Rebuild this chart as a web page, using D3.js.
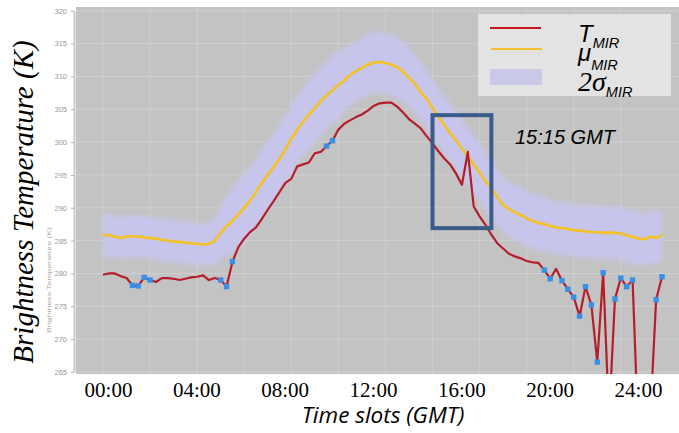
<!DOCTYPE html>
<html>
<head>
<meta charset="utf-8">
<title>Brightness temperature - MIR</title>
<script src="https://d3js.org/d3.v7.min.js"></script>
<style>
  body { margin: 0; background: #fff; }
  svg { display: block; }
</style>
</head>
<body>
<script>
// 15 minute slots, 00:00 .. 23:45
var tMir = [
  279.8, 280.0, 280.0, 279.6, 279.3, 278.2, 278.1, 279.4, 279.0, 278.7,
  279.3, 279.3, 279.2, 279.0, 279.2, 279.4, 279.5, 279.7, 279.0, 279.3,
  279.0, 278.0, 281.8, 284.0, 285.3, 286.3, 287.0, 288.3, 289.7, 291.0,
  292.4, 293.8, 294.4, 296.3, 296.6, 296.9, 298.3, 298.5, 299.4, 300.2,
  301.9, 302.8, 303.3, 303.8, 304.2, 304.8, 305.5, 305.9, 306.0, 306.0,
  305.4, 304.5, 303.5, 302.8, 302.1, 300.9, 299.8, 298.6, 297.5, 296.6,
  295.2, 293.5, 298.5, 290.2, 288.7, 287.4, 285.9, 284.6, 283.8, 283.0,
  282.6, 282.3, 281.9, 281.7, 281.6, 280.5, 279.2, 280.7, 278.9, 277.6,
  276.4, 273.5, 278.0, 275.2, 266.5, 280.1, 258.0, 276.1, 279.3, 278.0,
  279.0, 255.0, 252.0, 258.0, 276.0, 279.5
];
var muMir = [
  285.9, 285.8, 285.6, 285.4, 285.6, 285.7, 285.6, 285.5, 285.4, 285.3,
  285.1, 285.0, 284.9, 284.8, 284.7, 284.6, 284.5, 284.4, 284.5, 285.0,
  286.2, 287.2, 288.0, 289.0, 290.0, 291.1, 292.4, 293.8, 295.0, 296.2,
  297.5, 298.9, 300.5, 301.9, 303.1, 304.2, 305.2, 306.2, 307.1, 307.9,
  308.7, 309.4, 310.2, 310.8, 311.3, 311.8, 312.1, 312.2, 312.0, 311.8,
  311.4, 310.7, 309.8, 308.9, 307.6, 306.6, 305.2, 303.8, 302.6, 301.4,
  300.2, 299.0, 297.8, 296.6, 295.4, 294.0, 293.0, 291.6, 290.4, 289.8,
  289.3, 288.9, 288.4, 288.0, 287.7, 287.5, 287.2, 287.0, 286.9, 286.8,
  286.6, 286.5, 286.4, 286.3, 286.3, 286.2, 286.2, 286.2, 286.1, 285.8,
  285.6, 285.3, 285.2, 285.6, 285.4, 285.9
];
var twoSigma = [
  3.2, 3.2, 3.2, 3.2, 3.2, 3.2, 3.2, 3.2, 3.2, 3.2,
  3.2, 3.2, 3.2, 3.2, 3.2, 3.2, 3.2, 3.2, 3.2, 3.5,
  4.0, 4.5, 5.0, 5.2, 5.2, 5.2, 5.2, 5.2, 5.2, 5.2,
  5.2, 5.2, 5.2, 5.2, 5.2, 5.2, 5.2, 5.2, 5.2, 5.2,
  5.2, 4.6, 4.6, 4.6, 4.6, 4.6, 4.6, 4.6, 4.6, 4.6,
  4.6, 4.6, 4.6, 4.4, 4.4, 4.4, 4.4, 4.4, 4.4, 4.4,
  4.4, 4.4, 4.4, 4.4, 4.4, 4.4, 4.4, 4.2, 4.2, 4.2,
  4.2, 4.2, 4.2, 4.2, 4.2, 4.2, 4.0, 4.0, 4.0, 4.0,
  4.0, 4.0, 4.0, 4.0, 4.0, 4.0, 4.0, 4.0, 4.0, 4.0,
  4.0, 4.0, 4.0, 4.0, 4.0, 4.0
];
// slots flagged as anomalous (blue markers)
var flagged = [5, 6, 7, 8, 20, 21, 22, 38, 39, 75, 76, 78, 79, 80, 81, 82, 83, 84, 85, 87, 88, 89, 90, 94, 95];
var yTicks = [265, 270, 275, 280, 285, 290, 295, 300, 305, 310, 315, 320];
var timeLabels = ["00:00", "04:00", "08:00", "12:00", "16:00", "20:00", "24:00"];
var gridHours = [0, 2, 4, 6, 8, 10, 12, 14, 16, 18, 20, 22];
var boxHours = [14.0, 16.5], boxTemps = [286.9, 304.1];

var W = 679, H = 433;
var plot = {left: 76, right: 679, top: 7, bottom: 374};

var data = tMir.map(function(v, i) {
  return {h: i / 4, t: v, mu: muMir[i], s: twoSigma[i], flag: flagged.indexOf(i) >= 0};
});

var x = d3.scaleLinear().domain([0, 23.75]).range([103, 662]);
var y = d3.scaleLinear().domain([265, 320]).range([372, 10.7]);
var xLab = d3.scalePoint().domain(timeLabels).range([108, 638]);

var svg = d3.select("body").append("svg")
  .attr("width", W).attr("height", H);

var defs = svg.append("defs");
defs.append("clipPath").attr("id", "clip")
  .append("rect")
  .attr("x", plot.left).attr("y", plot.top)
  .attr("width", plot.right - plot.left).attr("height", plot.bottom - plot.top);
defs.append("filter").attr("id", "soft")
  .attr("x", "-10%").attr("y", "-10%").attr("width", "120%").attr("height", "120%")
  .append("feGaussianBlur").attr("stdDeviation", 2.2);

// plot background
svg.append("rect")
  .attr("x", plot.left).attr("y", plot.top)
  .attr("width", plot.right - plot.left).attr("height", plot.bottom - plot.top)
  .attr("fill", "#c3c3c3");

var g = svg.append("g").attr("clip-path", "url(#clip)");

g.selectAll(".hgrid").data(yTicks).enter().append("line")
  .attr("x1", plot.left).attr("x2", plot.right)
  .attr("y1", function(d) { return y(d); }).attr("y2", function(d) { return y(d); })
  .attr("stroke", "#d0d0d0").attr("stroke-width", 1);
g.selectAll(".vgrid").data(gridHours).enter().append("line")
  .attr("y1", plot.top).attr("y2", plot.bottom)
  .attr("x1", function(d) { return x(d); }).attr("x2", function(d) { return x(d); })
  .attr("stroke", "#cfcfcf").attr("stroke-width", 1);

// 2 sigma band
g.append("path").datum(data)
  .attr("fill", "#c8c6ee").attr("opacity", 0.95)
  .attr("filter", "url(#soft)")
  .attr("d", d3.area()
    .x(function(d) { return x(d.h); })
    .y0(function(d) { return y(d.mu - d.s); })
    .y1(function(d) { return y(d.mu + d.s); })
    .curve(d3.curveMonotoneX));

g.append("path").datum(data)
  .attr("fill", "none").attr("stroke", "#f2c12e").attr("stroke-width", 2.8)
  .attr("stroke-linejoin", "round")
  .attr("d", d3.line().x(function(d) { return x(d.h); }).y(function(d) { return y(d.mu); }));

g.append("path").datum(data)
  .attr("fill", "none").attr("stroke", "#b41e2a").attr("stroke-width", 2.2)
  .attr("stroke-linejoin", "round")
  .attr("d", d3.line().x(function(d) { return x(d.h); }).y(function(d) { return y(d.t); }));

g.selectAll(".flag").data(data.filter(function(d) { return d.flag; })).enter()
  .append("rect")
  .attr("x", function(d) { return x(d.h) - 2.7; })
  .attr("y", function(d) { return y(d.t) - 2.7; })
  .attr("width", 5.4).attr("height", 5.4)
  .attr("fill", "#3a8fe6");

// y axis (small, faint)
var yAxis = svg.append("g")
  .attr("transform", "translate(74,0)")
  .call(d3.axisLeft(y).tickValues(yTicks).tickSize(3).tickSizeOuter(0).tickPadding(4));
yAxis.selectAll("text")
  .attr("font-family", "Liberation Sans, Arial, sans-serif")
  .attr("font-size", 7.5).attr("fill", "#9a9a9a");
yAxis.selectAll("line").attr("stroke", "#b5b5b5");
yAxis.select(".domain").attr("stroke", "#c8c8c8").attr("stroke-width", 2);

svg.append("text")
  .attr("transform", "translate(51,280) rotate(-90)")
  .attr("text-anchor", "middle")
  .attr("font-family", "Liberation Sans, Arial, sans-serif")
  .attr("font-size", 5).attr("fill", "#a8a8a8")
  .attr("textLength", 106).attr("lengthAdjust", "spacingAndGlyphs")
  .text("Brightness Temperature (K)");

// x labels
var xAxis = svg.append("g")
  .attr("transform", "translate(0,382)")
  .call(d3.axisBottom(xLab).tickSize(0).tickPadding(0));
xAxis.select(".domain").remove();
xAxis.selectAll("text")
  .attr("dy", "0.72em")
  .attr("font-family", "Liberation Serif, Times New Roman, serif")
  .attr("font-size", 21).attr("fill", "#000");

// titles
svg.append("text")
  .attr("transform", "translate(33,202) rotate(-90)")
  .attr("text-anchor", "middle")
  .attr("font-family", "Liberation Serif, Times New Roman, serif")
  .attr("font-style", "italic").attr("font-size", 29)
  .text("Brightness Temperature (K)");

svg.append("text")
  .attr("x", 383).attr("y", 423)
  .attr("text-anchor", "middle")
  .attr("font-family", "Open Sans, Liberation Sans, sans-serif")
  .attr("font-style", "italic").attr("font-size", 22.5)
  .text("Time slots (GMT)");

// annotation
svg.append("rect")
  .attr("x", x(boxHours[0])).attr("y", y(boxTemps[1]))
  .attr("width", x(boxHours[1]) - x(boxHours[0]))
  .attr("height", y(boxTemps[0]) - y(boxTemps[1]))
  .attr("fill", "none").attr("stroke", "#3b5b8a").attr("stroke-width", 4);

svg.append("text")
  .attr("x", 515).attr("y", 144)
  .attr("font-family", "Liberation Sans, Arial, sans-serif")
  .attr("font-style", "italic").attr("font-size", 20)
  .text("15:15 GMT");

// legend
var leg = svg.append("g");
leg.append("rect").attr("x", 478).attr("y", 14).attr("width", 193).attr("height", 82)
  .attr("fill", "#e3e3e3");
leg.append("line").attr("x1", 490).attr("x2", 541).attr("y1", 28).attr("y2", 28)
  .attr("stroke", "#c4161c").attr("stroke-width", 2);
leg.append("line").attr("x1", 491).attr("x2", 542).attr("y1", 49).attr("y2", 49)
  .attr("stroke", "#f3c12f").attr("stroke-width", 2);
leg.append("rect").attr("x", 490).attr("y", 69).attr("width", 52).attr("height", 16)
  .attr("fill", "#c9c8e6");

function legendLabel(yb, main, mainFont, mainSize, subDy) {
  var t = leg.append("text").attr("x", 578).attr("y", yb)
    .attr("font-style", "italic");
  t.append("tspan").attr("font-family", mainFont).attr("font-size", mainSize).text(main);
  t.append("tspan").attr("font-family", "Liberation Sans, Arial, sans-serif")
    .attr("font-size", 14.5).attr("dy", subDy).text("MIR");
}
legendLabel(42, "T", "Liberation Sans, Arial, sans-serif", 24, 6);
legendLabel(61, "\u03bc", "Liberation Sans, Arial, sans-serif", 24, 9);
legendLabel(91, "2\u03c3", "Liberation Serif, Times New Roman, serif", 28, 6);
</script>
</body>
</html>
